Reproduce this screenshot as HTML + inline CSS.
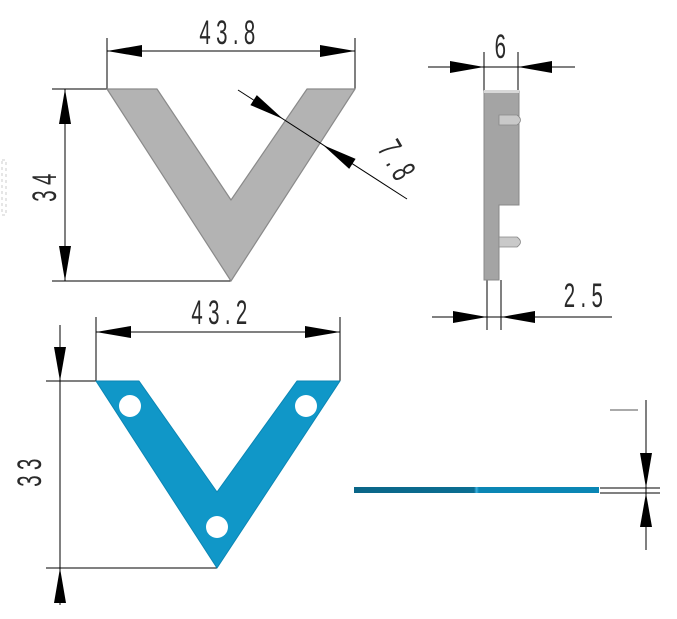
<!DOCTYPE html>
<html><head><style>html,body{margin:0;padding:0;background:#fff}svg{display:block}</style></head>
<body>
<svg width="677" height="619" viewBox="0 0 677 619" xmlns="http://www.w3.org/2000/svg" font-family="Liberation Sans, sans-serif">
<defs>
<linearGradient id="st" x1="0" x2="1" y1="0" y2="0">
<stop offset="0" stop-color="#0a6688"/><stop offset="0.49" stop-color="#0b6e92"/><stop offset="0.5" stop-color="#3bb0de"/><stop offset="0.51" stop-color="#0a86b4"/><stop offset="1" stop-color="#0a86b4"/>
</linearGradient>
</defs>
<g stroke="#000" stroke-width="1" fill="none">
<line x1="107" y1="38" x2="107" y2="89"/><line x1="355" y1="38" x2="355" y2="89"/>
<line x1="107" y1="51" x2="355" y2="51"/>
<line x1="52" y1="89" x2="107" y2="89"/><line x1="52" y1="281" x2="231" y2="281"/>
<line x1="65" y1="89" x2="65" y2="281"/>
<line x1="428" y1="67" x2="575" y2="67"/>
<line x1="484" y1="52" x2="484" y2="92"/><line x1="518" y1="52" x2="518" y2="92"/>
<line x1="432" y1="317" x2="612" y2="317"/>
<line x1="487" y1="280" x2="487" y2="330"/><line x1="501" y1="280" x2="501" y2="330"/>
<line x1="96" y1="317" x2="96" y2="381"/><line x1="340" y1="317" x2="340" y2="381"/>
<line x1="96" y1="332" x2="340" y2="332"/>
<line x1="46" y1="381" x2="96" y2="381"/><line x1="46" y1="568" x2="217" y2="568"/>
<line x1="60" y1="325" x2="60" y2="605"/>
<line x1="600" y1="488" x2="660" y2="488"/><line x1="600" y1="493" x2="660" y2="493"/>
<line x1="646" y1="400" x2="646" y2="550"/>
<line x1="610" y1="410" x2="638" y2="410" stroke="#555"/>
</g>
<rect x="2" y="160" width="4" height="55" fill="none" stroke="#ccc" stroke-dasharray="3,3"/>
<polygon points="107,89 157,89 231,200 307,89 355,89 231,281" fill="#b3b3b3" stroke="#8a8a8a" stroke-width="1.2" stroke-linejoin="round"/>
<line x1="238" y1="90" x2="407" y2="199" stroke="#000" stroke-width="1"/>
<g fill="#000">
<polygon points="107,51 142,45 142,57"/><polygon points="355,51 320,45 320,57"/>
<polygon points="65,89 59,124 71,124"/><polygon points="65,281 59,246 71,246"/>
<polygon points="283,119 250.4,105.1 256.8,95.1"/>
<polygon points="323,145 349.2,168.9 355.6,158.9"/>
<polygon points="484,67 450,61 450,73"/><polygon points="518,67 552,61 552,73"/>
<polygon points="487,317 453,311 453,323"/><polygon points="501,317 535,311 535,323"/>
<polygon points="96,332 131,326 131,338"/><polygon points="340,332 305,326 305,338"/>
<polygon points="60,381 54,347 66,347"/><polygon points="60,568 54,603 66,603"/>
<polygon points="646,488 640,453 652,453"/><polygon points="646,493 640,527 652,527"/>
</g>
<path d="M484,91 L519,91 L519,205 L499,205 L499,280 L484,280 Z" fill="#a4a4a4" stroke="#888" stroke-width="1"/>
<rect x="484" y="90" width="35" height="3" fill="#d8d8d8"/>
<path d="M499,115 L517,115 Q524,120 517,125 L499,125 Z" fill="#c9c9c9" stroke="#888" stroke-width="0.8"/>
<path d="M499,237 L517,237 Q524,242 517,247 L499,247 Z" fill="#c9c9c9" stroke="#888" stroke-width="0.8"/>
<path d="M96,381 L139,381 L217,492 L297,381 L340,381 L217,568 Z" fill="#1097c8" stroke="#0b86b4" stroke-width="1" stroke-linejoin="round"/>
<circle cx="130" cy="406" r="11" fill="#fff"/>
<circle cx="306" cy="406" r="11" fill="#fff"/>
<circle cx="217" cy="527" r="11" fill="#fff"/>
<rect x="354" y="487" width="245" height="6" fill="url(#st)"/>
<g fill="#2a2a2a" font-size="34" letter-spacing="9">
<text transform="translate(230,44) scale(0.6,1)" text-anchor="middle">43.8</text>
<text transform="translate(56,185) rotate(-90) scale(0.6,1)" text-anchor="middle">34</text>
<text transform="translate(388,168) rotate(60) scale(0.6,1)" text-anchor="middle">7.8</text>
<text transform="translate(503,58) scale(0.6,1)" text-anchor="middle">6</text>
<text transform="translate(586,307) scale(0.6,1)" text-anchor="middle">2.5</text>
<text transform="translate(222,324) scale(0.6,1)" text-anchor="middle">43.2</text>
<text transform="translate(41,470) rotate(-90) scale(0.6,1)" text-anchor="middle">33</text>
</g>
</svg>
</body></html>
